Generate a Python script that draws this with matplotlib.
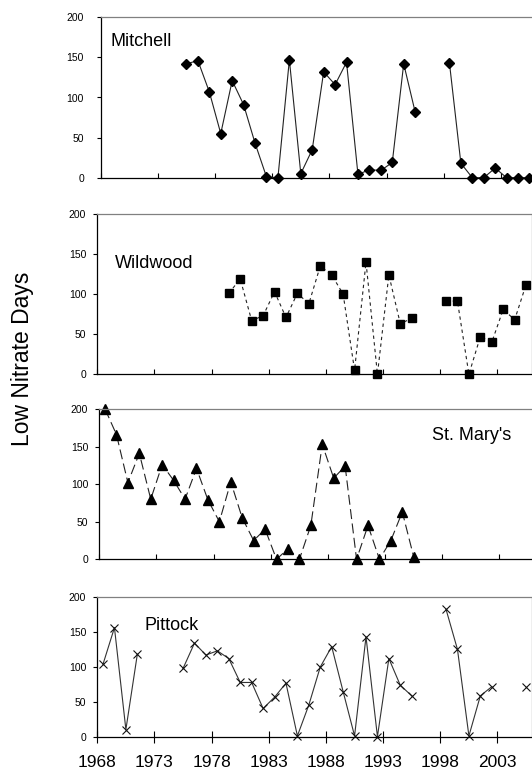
import numpy as np
import matplotlib
matplotlib.use('Agg')
import matplotlib.pyplot as plt

plt.rcParams['font.family'] = ['Liberation Sans', 'DejaVu Sans']

# anos (una entrada por ano, None = sin dato)
years = list(range(1968, 2006))
tick_years = [1968, 1973, 1978, 1983, 1988, 1993, 1998, 2003]

mitchell = [None, None, None, None, None, None, None,
            142, 146, 107, 55, 121, 91, 43, 1, 0, 147, 5, 35, 132, 116, 144,
            4, 10, 9, 19, 142, 82, None, None,
            143, 18, 0, 0, 12, 0, 0, 0]

wildwood = [None] * 11 + [
            101, 119, 67, 73, 103, 71, 101, 88, 135, 124, 100, 5, 140, 0,
            124, 63, 70, None, None,
            92, 91, 0, 47, 40, 81, 68, 112]

st_marys = [200, 166, 102, 141, 80, 126, 105, 80, 121, 79, 50, 103, 55, 25,
            40, 0, 14, 0, 45, 153, 108, 124, 0, 45, 0, 25, 63, 3] + [None] * 10

pittock = [104, 156, 11, 118, None, None, None,
           98, 134, 117, 123, 112, 78, 78, 41, 57, 77, 2, 46, 100, 129, 65,
           2, 143, 1, 112, 74, 59, None, None,
           182, 125, 2, 59, 72, None, None, 72]

W, H = 532, 773
fig = plt.figure(figsize=(W / 100, H / 100), dpi=100)


def make_ax(left, top, bottom):
    # posiciones en pixeles -> fracciones de figura
    return fig.add_axes([left / W, 1 - bottom / H, 434.5 / W, (bottom - top) / H])


def style(ax, last=False, ypad=5):
    ax.set_xlim(1967.5, 2005.5)
    ax.set_ylim(0, 200)
    ax.set_yticks([0, 50, 100, 150, 200])
    ax.set_xticks([y - 0.5 for y in tick_years])
    for s in ['top', 'right']:
        ax.spines[s].set_color('#808080')
        ax.spines[s].set_linewidth(0.9)
    for s in ['left', 'bottom']:
        ax.spines[s].set_color('black')
        ax.spines[s].set_linewidth(0.9)
    ax.tick_params(axis='y', direction='out', length=3, width=0.8,
                   labelsize=7.5, pad=ypad, colors='black')
    if last:
        ax.set_xticklabels([str(y) for y in tick_years])
        ax.tick_params(axis='x', direction='inout', length=8, width=0.8,
                       labelsize=12.5, pad=9)
    else:
        ax.tick_params(axis='x', direction='in', length=3.5, width=0.8,
                       labelbottom=False)


def to_arr(v):
    return np.array([np.nan if x is None else x for x in v], dtype=float)


# Mitchell
ax1 = make_ax(100.7, 17.3, 177.7)
style(ax1, ypad=9)
ax1.plot(years, to_arr(mitchell), color='#222222', lw=0.8, marker='D',
         ms=4.6, mfc='black', mec='black', clip_on=False)
fig.text(110 / W, 1 - 41 / H, 'Mitchell', fontsize=13, va='center', ha='left')

# Wildwood
ax2 = make_ax(97.3, 214, 374.3)
style(ax2)
ax2.plot(years, to_arr(wildwood), color='#222222', lw=0.8, dashes=(3, 3),
         marker='s', ms=6, mfc='black', mec='black', clip_on=False)
fig.text(115 / W, 1 - 264 / H, 'Wildwood', fontsize=13, va='center', ha='left')

# St. Mary's
ax3 = make_ax(99.3, 409, 559.3)
style(ax3)
ax3.plot(years, to_arr(st_marys), color='#222222', lw=0.8, dashes=(9, 4),
         marker='^', ms=7.4, mfc='black', mec='black', clip_on=False)
fig.text(431.7 / W, 1 - 436 / H, "St. Mary's", fontsize=13, va='center', ha='left')

# Pittock
ax4 = make_ax(97.3, 596.7, 737.3)
style(ax4, last=True)
ax4.plot(years, to_arr(pittock), color='#333333', lw=0.8, marker='x',
         ms=5.5, mew=0.8, mec='#111111', clip_on=False)
fig.text(145 / W, 1 - 626 / H, 'Pittock', fontsize=13, va='center', ha='left')

fig.text(22.5 / W, 1 - 359 / H, 'Low Nitrate Days', rotation=90,
         fontsize=16.5, va='center', ha='center')

plt.savefig('out.png', dpi=100)
plt.close()
